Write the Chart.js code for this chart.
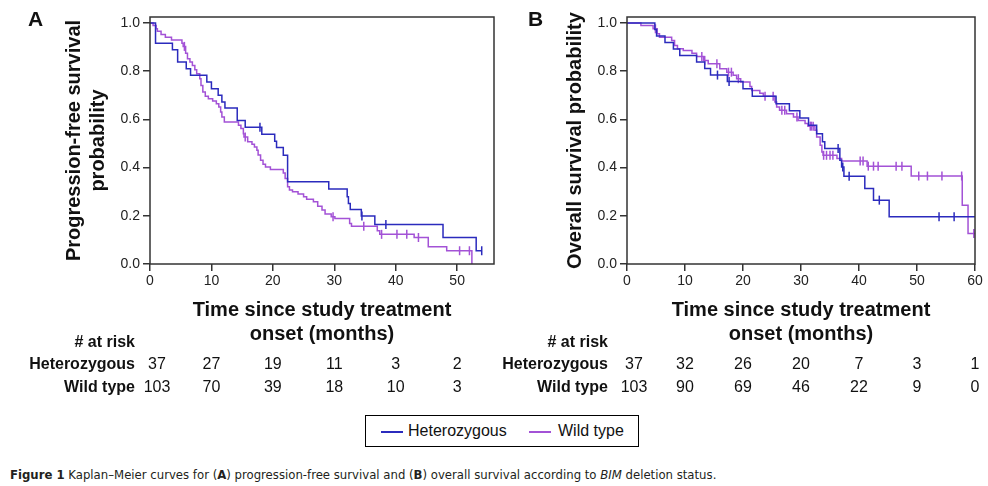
<!DOCTYPE html>
<html>
<head>
<meta charset="utf-8">
<script src="https://cdn.jsdelivr.net/npm/chart.js@4.4.1/dist/chart.umd.min.js"></script>
<style>
  body { margin: 0; background: #fff; width: 988px; height: 486px; position: relative; overflow: hidden; font-family: "Liberation Sans", Arial, sans-serif; color: #111; }
  #cA { position: absolute; left: 0; top: 0; }
  #cB { position: absolute; left: 500px; top: 0; }
  #legend { position: absolute; left: 365px; top: 415px; width: 272px; height: 30px; border: 1px solid #000; font-size: 16px; }
  #legend span { position: absolute; top: 6px; }
  #legend i { position: absolute; top: 15px; width: 22px; height: 2px; }
  #caption { position: absolute; left: 10px; top: 467px; font-family: "Liberation Sans Narrow", "DejaVu Sans Condensed", sans-serif; font-size: 13px; color: #231f20; white-space: nowrap; }
</style>
</head>
<body>
<canvas id="cA" width="500" height="400"></canvas>
<canvas id="cB" width="488" height="400"></canvas>
<div id="legend">
  <i style="left:15px;background:#2b2bbd"></i><span style="left:42px">Heterozygous</span>
  <i style="left:163px;background:#a352d6"></i><span style="left:192px">Wild type</span>
</div>
<div id="caption"><b>Figure 1</b> Kaplan–Meier curves for (<b>A</b>) progression-free survival and (<b>B</b>) overall survival according to <i>BIM</i> deletion status.</div>
<script>
// tick labels
const yTicks = [0, 0.2, 0.4, 0.6, 0.8, 1.0];
const xTicksA = [0, 10, 20, 30, 40, 50];
const xTicksB = [0, 10, 20, 30, 40, 50, 60];

// (A) progression-free survival, [months, probability]
const pfsHet = [[0,1],[0.9,0.916],[3.65,0.889],[4.5,0.838],[5.9,0.81],[6.6,0.783],[9.25,0.755],[10,0.727],[11.1,0.7],[11.7,0.672],[12.2,0.647],[14.2,0.596],[15.5,0.567],[18.2,0.538],[20.3,0.509],[20.6,0.483],[21.7,0.451],[22.4,0.341],[29.1,0.311],[32.1,0.279],[32.3,0.251],[32.6,0.226],[34.4,0.199],[36.6,0.164],[47.7,0.11],[53.1,0.055],[54,0.055]];
const pfsHetCens = [[17.9,0.567],[34.5,0.199],[38.4,0.164],[54,0.055]];
const pfsWild = [[0,1],[0.5,0.99],[1,0.976],[1.2,0.966],[1.8,0.952],[2.5,0.941],[3.5,0.93],[5.2,0.916],[5.4,0.903],[5.8,0.875],[6.1,0.852],[6.5,0.838],[6.9,0.824],[7.3,0.806],[7.6,0.789],[8.1,0.769],[8.3,0.741],[8.6,0.714],[9,0.696],[9.5,0.686],[10.2,0.676],[10.8,0.665],[11.2,0.652],[11.5,0.631],[11.7,0.61],[12.1,0.589],[14.4,0.576],[14.8,0.562],[15.2,0.541],[15.3,0.527],[15.9,0.507],[16.6,0.497],[17,0.486],[17.4,0.472],[17.6,0.452],[18,0.431],[18.4,0.414],[18.8,0.403],[19.6,0.392],[21.7,0.378],[22,0.355],[22.4,0.321],[22.7,0.307],[23.2,0.3],[24.1,0.29],[25,0.279],[25.5,0.269],[26.6,0.258],[27.3,0.24],[28,0.224],[28.5,0.207],[29.5,0.196],[30.1,0.189],[32.5,0.168],[32.8,0.157],[37,0.138],[37.4,0.123],[43,0.11],[45.3,0.072],[48.3,0.055],[52.4,0]];
const pfsWildCens = [[5.6,0.903],[15.5,0.527],[29.8,0.196],[34.8,0.157],[37.7,0.123],[40.2,0.123],[41.8,0.123],[43.7,0.11],[50.4,0.055],[52,0.055]];

// (B) overall survival, [months, probability]
const osHet = [[0,1],[4.8,0.973],[5.1,0.946],[6.55,0.919],[8,0.892],[9.1,0.865],[12,0.838],[13.4,0.811],[14.4,0.784],[17.3,0.757],[20,0.727],[21.6,0.696],[25.7,0.665],[28,0.636],[29.8,0.606],[31.3,0.576],[32.7,0.541],[33.7,0.507],[34.1,0.479],[36.7,0.431],[37,0.403],[37.4,0.364],[41,0.313],[42.5,0.265],[45.2,0.196],[60,0.196]];
const osHetCens = [[15.6,0.784],[17.6,0.757],[36.4,0.479],[37.2,0.403],[38.3,0.364],[43.5,0.265],[53.8,0.196],[56.4,0.196]];
const osWild = [[0,1],[2.4,0.99],[4.5,0.976],[5.2,0.955],[5.6,0.941],[7.7,0.927],[8.2,0.907],[8.7,0.893],[9.7,0.886],[11.2,0.875],[12,0.861],[13.2,0.845],[14,0.831],[16,0.81],[17.2,0.796],[18.3,0.783],[18.9,0.769],[19.6,0.755],[21.2,0.737],[21.5,0.72],[22.9,0.709],[23.5,0.696],[25.5,0.672],[25.8,0.651],[26.3,0.638],[27.5,0.624],[28.7,0.61],[29.5,0.596],[30.7,0.583],[31.2,0.572],[32.4,0.555],[32.7,0.527],[33.3,0.493],[33.6,0.465],[33.8,0.451],[36.2,0.438],[37,0.427],[41.4,0.406],[49,0.365],[57.8,0.244],[58.8,0.127],[60,0.127]];
const osWildCens = [[4.9,0.976],[12.9,0.861],[13.4,0.845],[15.5,0.831],[17.5,0.796],[18,0.796],[19.2,0.769],[23.8,0.696],[25.2,0.696],[26.7,0.638],[27.2,0.638],[29.3,0.61],[31.6,0.572],[31.8,0.572],[32.1,0.572],[33.9,0.451],[34.4,0.451],[35,0.451],[35.5,0.451],[40.2,0.427],[40.7,0.427],[41.6,0.406],[42.5,0.406],[43.3,0.406],[46.4,0.406],[47.4,0.406],[50.3,0.365],[51.8,0.365],[54.3,0.365],[57.7,0.365],[59.8,0.127]];

// numbers at risk
const riskHetA = [37, 27, 19, 11, 3, 2];
const riskWildA = [103, 70, 39, 18, 10, 3];
const riskHetB = [37, 32, 26, 20, 7, 3, 1];
const riskWildB = [103, 90, 69, 46, 22, 9, 0];

const BLUE = '#2b2bbd';
const PURPLE = '#a352d6';
const FONT = '"Liberation Sans", Arial, sans-serif';

const toXY = arr => arr.map(([x, y]) => ({x, y}));

// frame, panel letter and the at-risk table under the x axis
const kmExtras = {
  id: 'kmExtras',
  afterDraw(chart, args, opts) {
    const {ctx, chartArea: a} = chart;
    const x = chart.scales.x;
    ctx.save();
    ctx.strokeStyle = '#333';
    ctx.lineWidth = 1.5;
    ctx.strokeRect(a.left, a.top, a.right - a.left, a.bottom - a.top);

    ctx.fillStyle = '#111';
    ctx.textBaseline = 'middle';
    ctx.textAlign = 'left';
    ctx.font = 'bold 21px ' + FONT;
    ctx.fillText(opts.letter, 28, 20);

    ctx.textAlign = 'right';
    ctx.font = 'bold 16px ' + FONT;
    ctx.fillText('# at risk', opts.labelRight, 343);
    ctx.fillText('Heterozygous', opts.labelRight, 365);
    ctx.fillText('Wild type', opts.labelRight, 388);

    ctx.textAlign = 'center';
    ctx.font = '16px ' + FONT;
    opts.times.forEach((t, i) => {
      // first column sits a little right of the 0 tick
      const px = x.getPixelForValue(t) + (i === 0 ? 7 : 0);
      ctx.fillText(String(opts.het[i]), px, 365);
      ctx.fillText(String(opts.wild[i]), px, 388);
    });
    ctx.restore();
  }
};

function kmChart(id, p) {
  const curve = (data, color) => ({
    data: toXY(data), borderColor: color, borderWidth: 1.5, stepped: true,
    pointRadius: 0, fill: false
  });
  const cens = (data, color) => ({
    data: toXY(data), showLine: false, pointStyle: 'line', rotation: 90,
    pointRadius: 4.5, borderColor: color, backgroundColor: color, borderWidth: 1.5
  });
  const axisGrid = {display: true, drawOnChartArea: false, drawTicks: true, tickLength: 7, color: '#333', lineWidth: 1.5};

  return new Chart(document.getElementById(id), {
    type: 'line',
    data: {
      datasets: [
        curve(p.het, BLUE),
        cens(p.hetCens, BLUE),
        curve(p.wild, PURPLE),
        cens(p.wildCens, PURPLE)
      ]
    },
    options: {
      responsive: false,
      animation: false,
      layout: {padding: {top: 17, right: p.padRight, left: 0, bottom: 0}},
      plugins: {
        legend: {display: false},
        tooltip: {enabled: false},
        kmExtras: {letter: p.letter, labelRight: p.labelRight, times: p.xTicks, het: p.riskHet, wild: p.riskWild}
      },
      scales: {
        x: {
          type: 'linear', min: 0, max: p.xMax,
          afterBuildTicks: s => { s.ticks = p.xTicks.map(v => ({value: v})); },
          afterFit: s => { s.height = 136; },
          grid: axisGrid,
          border: {display: false},
          ticks: {font: {size: 14, family: FONT}, color: '#222', padding: 2, maxRotation: 0},
          title: {
            display: true, text: ['Time since study treatment', 'onset (months)'],
            font: {size: 20, weight: 'bold', family: FONT}, color: '#111',
            padding: {top: 0, bottom: 54}
          }
        },
        y: {
          type: 'linear', min: 0, max: 1.025,
          afterBuildTicks: s => { s.ticks = yTicks.map(v => ({value: v})); },
          afterFit: s => { s.width = p.yWidth; },
          grid: axisGrid,
          border: {display: false},
          ticks: {font: {size: 14, family: FONT}, color: '#222', padding: 3, callback: v => v.toFixed(1)},
          title: {
            display: true, text: p.yTitle,
            font: {size: 20, weight: 'bold', family: FONT}, color: '#111',
            padding: {top: p.yTitlePad, bottom: 0}
          }
        }
      }
    },
    plugins: [kmExtras]
  });
}

kmChart('cA', {
  letter: 'A', het: pfsHet, hetCens: pfsHetCens, wild: pfsWild, wildCens: pfsWildCens,
  xMax: 56, xTicks: xTicksA, riskHet: riskHetA, riskWild: riskWildA,
  yTitle: ['Progression-free survival', 'probability'], yTitlePad: 62,
  yWidth: 150, padRight: 3, labelRight: 135
});

kmChart('cB', {
  letter: 'B', het: osHet, hetCens: osHetCens, wild: osWild, wildCens: osWildCens,
  xMax: 60, xTicks: xTicksB, riskHet: riskHetB, riskWild: riskWildB,
  yTitle: 'Overall survival probability', yTitlePad: 63,
  yWidth: 127, padRight: 13, labelRight: 108
});
</script>
</body>
</html>
